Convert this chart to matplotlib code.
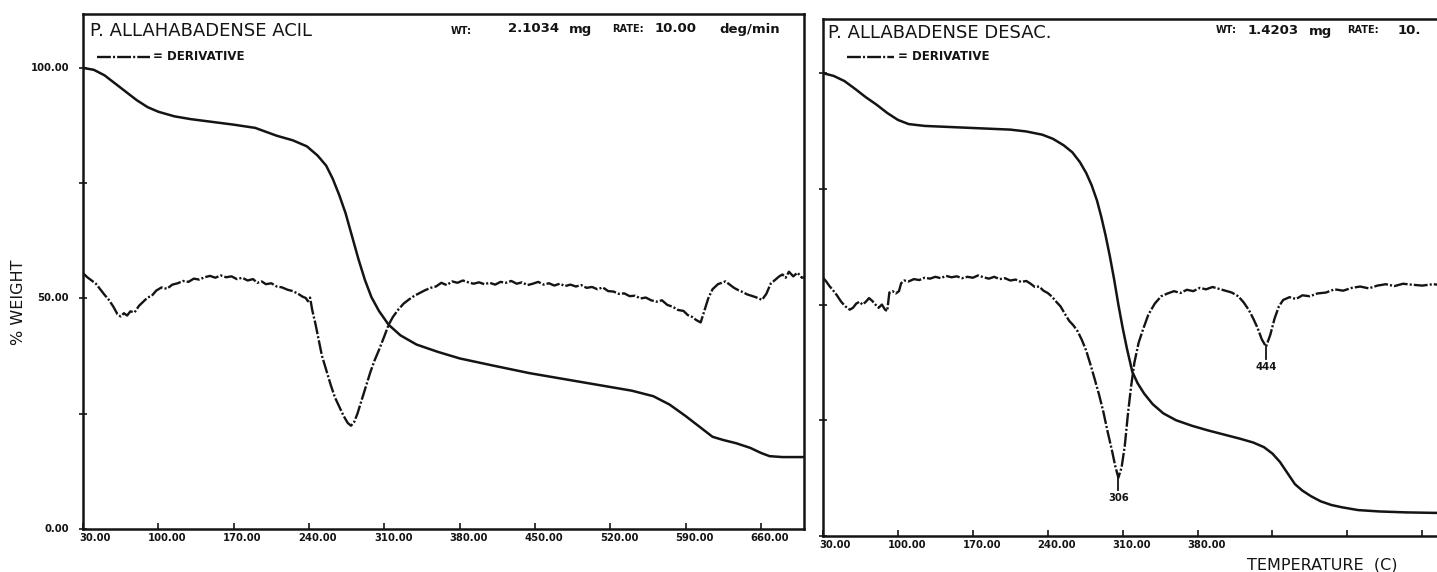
import matplotlib
matplotlib.use("Agg")
import matplotlib.pyplot as plt
import matplotlib.transforms as mtransforms
from matplotlib.lines import Line2D

plt.rcParams["lines.scale_dashes"] = False
plt.rcParams["font.family"] = ["DejaVu Sans"]

# ---------------- data: (temperature C, value) ----------------
# Panel A: P. allahabadense, acylated sample
acil_weight_pts = [
    (30, 100.0), (40, 99.6), (50, 98.4), (60, 96.6), (70, 94.8), (80, 93.0), (90, 91.5),
    (100, 90.5), (115, 89.5), (130, 88.9), (150, 88.3), (170, 87.7), (190, 87.0),
    (210, 85.3), (225, 84.3), (238, 83.0), (248, 81.0), (256, 78.8), (262, 76.0),
    (268, 72.5), (274, 68.5), (280, 63.5), (286, 58.5), (292, 54.0), (298, 50.3),
    (305, 47.3), (314, 44.3), (325, 42.0), (340, 40.0), (360, 38.4), (380, 37.0),
    (410, 35.5), (445, 33.8), (480, 32.4), (510, 31.2), (540, 30.0), (560, 28.8),
    (575, 27.0), (590, 24.5), (605, 21.8), (615, 20.0), (625, 19.3), (637, 18.6),
    (650, 17.6), (660, 16.5), (668, 15.8), (680, 15.6), (700, 15.6),
]
acil_deriv_pts = [
    (30, 55.5), (34, 54.6), (38, 53.9), (42, 53.2), (46, 52.0), (50, 50.8), (54, 49.7),
    (58, 48.3), (62, 46.6), (65, 46.1), (68, 46.8), (71, 46.3), (74, 47.2), (78, 47.0),
    (82, 48.4), (86, 49.3), (90, 50.2), (94, 50.6), (98, 51.7), (103, 52.4), (108, 52.1),
    (113, 53.0), (118, 53.3), (123, 53.8), (128, 53.6), (133, 54.3), (138, 54.1),
    (143, 54.6), (148, 54.9), (153, 54.5), (158, 55.0), (163, 54.6), (168, 54.8),
    (173, 54.2), (178, 54.5), (183, 53.9), (188, 54.2), (192, 53.4), (196, 53.7),
    (200, 53.1), (205, 53.3), (210, 52.6), (215, 52.4), (220, 51.9), (225, 51.6),
    (230, 51.0), (234, 50.4), (237, 50.1), (239, 49.4), (241, 50.2), (243, 47.5),
    (246, 44.5), (249, 41.0), (252, 37.6), (256, 34.5), (260, 31.4), (264, 28.6),
    (268, 26.6), (272, 24.6), (276, 23.0), (279, 22.4), (282, 23.2), (285, 25.0),
    (289, 28.0), (293, 31.0), (297, 34.0), (301, 36.6), (305, 38.8), (310, 41.8),
    (314, 44.3), (318, 46.0), (323, 47.6), (328, 48.9), (333, 49.8), (338, 50.6),
    (343, 51.2), (348, 51.8), (353, 52.3), (358, 52.6), (363, 53.4), (368, 52.9),
    (373, 53.7), (378, 53.4), (383, 53.9), (388, 53.5), (393, 53.2), (398, 53.5),
    (403, 53.1), (408, 53.4), (413, 53.0), (418, 53.6), (423, 53.4), (428, 53.8),
    (433, 53.2), (438, 53.5), (443, 52.9), (448, 53.2), (453, 53.6), (458, 53.0),
    (463, 53.3), (468, 52.8), (473, 53.2), (478, 52.7), (483, 53.0), (488, 52.6),
    (493, 52.9), (498, 52.3), (503, 52.5), (508, 52.0), (513, 52.4), (518, 51.6),
    (523, 51.5), (528, 51.0), (533, 51.1), (538, 50.5), (543, 50.6), (548, 50.0),
    (553, 50.2), (558, 49.6), (563, 49.3), (568, 49.6), (573, 48.6), (578, 48.2),
    (583, 47.5), (588, 47.3), (592, 46.4), (596, 46.0), (600, 45.3), (604, 44.8),
    (607, 47.0), (611, 50.0), (615, 52.0), (620, 53.1), (627, 53.7), (631, 53.0),
    (635, 52.3), (639, 51.8), (643, 51.4), (647, 50.9), (651, 50.6), (655, 50.3),
    (661, 49.7), (665, 51.0), (669, 53.2), (673, 54.0), (677, 54.8), (680, 55.2),
    (683, 54.5), (686, 55.8), (690, 54.8), (694, 55.6), (698, 54.5), (700, 54.6),
]

# Panel B: P. allahabadense, deacylated sample
desac_weight_pts = [
    (30, 100.0), (40, 99.4), (50, 98.3), (60, 96.6), (70, 94.8), (80, 93.2), (90, 91.4),
    (100, 89.9), (110, 89.0), (125, 88.6), (145, 88.4), (165, 88.2), (185, 88.0),
    (205, 87.8), (220, 87.4), (235, 86.7), (245, 85.8), (255, 84.4), (263, 82.9),
    (270, 80.8), (276, 78.4), (281, 75.8), (286, 72.5), (290, 69.0), (294, 65.0),
    (298, 60.5), (302, 55.5), (306, 50.0), (310, 45.0), (314, 40.5), (319, 35.5),
    (324, 33.0), (330, 30.8), (338, 28.5), (348, 26.5), (360, 25.0), (375, 23.8),
    (390, 22.8), (405, 21.9), (420, 21.0), (432, 20.2), (442, 19.2), (450, 17.8),
    (457, 16.0), (464, 13.6), (471, 11.2), (478, 9.8), (486, 8.6), (495, 7.5),
    (505, 6.7), (515, 6.2), (530, 5.6), (550, 5.3), (575, 5.1), (600, 5.0), (640, 4.9),
    (700, 4.8),
]
desac_deriv_pts = [
    (30, 55.8), (33, 55.0), (36, 54.0), (39, 53.2), (43, 52.0), (47, 50.6), (51, 49.6),
    (55, 48.9), (58, 49.3), (61, 50.2), (64, 50.6), (67, 50.0), (70, 50.6), (73, 51.4),
    (76, 50.8), (79, 50.0), (82, 49.3), (85, 50.0), (88, 48.9), (90, 48.6), (92, 52.6),
    (95, 52.9), (98, 52.4), (101, 52.9), (103, 54.6), (106, 55.2), (110, 55.0),
    (115, 55.5), (120, 55.3), (125, 55.8), (130, 55.6), (135, 56.0), (140, 55.7),
    (145, 56.2), (150, 55.9), (155, 56.1), (160, 55.7), (165, 56.0), (170, 55.8),
    (175, 56.3), (180, 55.9), (185, 55.6), (190, 56.0), (195, 55.5), (200, 55.7),
    (205, 55.2), (210, 55.4), (215, 54.9), (220, 55.1), (224, 54.5), (228, 53.8),
    (232, 53.9), (236, 53.0), (240, 52.5), (244, 51.7), (248, 50.6), (252, 49.6),
    (256, 48.0), (260, 46.5), (264, 45.5), (268, 44.2), (272, 42.3), (276, 40.0),
    (280, 37.0), (284, 33.8), (288, 30.5), (292, 26.8), (296, 22.5), (300, 18.5),
    (303, 15.2), (306, 12.6), (309, 14.8), (312, 19.5), (315, 26.5), (318, 32.5),
    (321, 37.5), (325, 41.8), (329, 44.6), (334, 47.8), (340, 50.2), (346, 51.8),
    (352, 52.4), (358, 52.9), (364, 52.5), (370, 53.2), (376, 52.9), (382, 53.6),
    (388, 53.3), (394, 53.8), (400, 53.4), (406, 53.0), (412, 52.6), (418, 51.8),
    (423, 50.5), (428, 48.8), (432, 47.0), (436, 45.0), (440, 42.5), (444, 40.9),
    (448, 43.5), (452, 47.0), (456, 49.6), (460, 51.0), (466, 51.6), (472, 51.2),
    (478, 52.0), (485, 51.8), (492, 52.4), (500, 52.6), (508, 53.3), (516, 53.0),
    (524, 53.6), (532, 53.9), (540, 53.5), (548, 54.1), (556, 54.4), (564, 54.0),
    (572, 54.5), (580, 54.3), (590, 54.1), (600, 54.4), (610, 54.2), (620, 54.0),
    (640, 53.9), (660, 53.8), (700, 53.7),
]

desac_peaks = [306, 444]
desac_peak_depth = [12.6, 40.9]

x_ticks = [30, 100, 170, 240, 310, 380, 450, 520, 590, 660]
x_tick_labels = ["30.00", "100.00", "170.00", "240.00", "310.00", "380.00",
                 "450.00", "520.00", "590.00", "660.00"]
desac_labelled = 6
y_ticks = [0, 25, 50, 75, 100]
y_tick_labels = ["0.00", "", "50.00", "", "100.00"]

# ---------------- figure ----------------
W, H = 1437, 572
fig = plt.figure(figsize=(W / 100, H / 100), dpi=100)
fig.patch.set_facecolor("white")
ink = "#141414"


def fx(px):
    return px / W


def fy(py):
    return 1 - py / H


def split(pts):
    return [p[0] for p in pts], [p[1] for p in pts]


ax1 = fig.add_axes([fx(83), fy(529), (804 - 83) / W, (529 - 14) / H])
ax2 = fig.add_axes([fx(823), fy(536), 717 / W, (536 - 19) / H])

deriv_style = dict(color=ink, lw=1.7, linestyle=(0, (10, 1.5, 1.5, 1.5)))
tga_style = dict(color=ink, lw=1.8, solid_capstyle="round")
tick_font = dict(fontsize=7.2, fontweight="bold", color=ink)

for ax in (ax1, ax2):
    ax.set_xlim(30, 700)
    ax.set_ylim(0, 111.7)
    for sp in ax.spines.values():
        sp.set_linewidth(1.8)
        sp.set_color(ink)
    ax.set_xticks(x_ticks)
    ax.set_xticklabels([])
    ax.set_yticks(y_ticks)
    ax.set_yticklabels([])
    ax.tick_params(axis="x", direction="in", length=4, width=1.2, color=ink)
    ax.tick_params(axis="y", direction="inout", length=6, width=1.2, color=ink)

ax1.plot(*split(acil_weight_pts), **tga_style)
ax1.plot(*split(acil_deriv_pts), **deriv_style)
ax2.plot(*split(desac_weight_pts), **tga_style)
ax2.plot(*split(desac_deriv_pts), **deriv_style)

# temperature tick labels, right-aligned a little past each tick
for ax, n in ((ax1, len(x_ticks)), (ax2, desac_labelled)):
    tr = mtransforms.offset_copy(ax.get_xaxis_transform(), fig=fig, x=28, y=-4, units="dots")
    for v, lab in zip(x_ticks[:n], x_tick_labels[:n]):
        ax.text(v, 0, lab, transform=tr, ha="right", va="top", **tick_font)

# weight tick labels on the left panel only
tr = mtransforms.offset_copy(ax1.get_yaxis_transform(), fig=fig, x=-14, y=0, units="dots")
for v, lab in zip(y_ticks, y_tick_labels):
    if lab:
        ax1.text(0, v, lab, transform=tr, ha="right", va="center", **tick_font)

# peak temperatures on the derivative curve
for t, d in zip(desac_peaks, desac_peak_depth):
    ax2.plot([t, t], [d, d - 2.6], color=ink, lw=1.3)
    ax2.text(t, d - 3.4, f"{t:d}", ha="center", va="top", **tick_font)

# headers
head = dict(fontsize=13, color=ink, va="center", ha="left")
num = dict(fontsize=9.5, fontweight="bold", color=ink, va="center", ha="left")
key = dict(fontsize=7, fontweight="bold", color=ink, va="center", ha="left")
fig.text(fx(90), fy(31), "P. ALLAHABADENSE ACIL", **head)
fig.text(fx(451), fy(31), "WT:", **key)
fig.text(fx(508), fy(29), "2.1034", **num)
fig.text(fx(569), fy(30), "mg", **num)
fig.text(fx(612), fy(29), "RATE:", **key)
fig.text(fx(655), fy(29), "10.00", **num)
fig.text(fx(719), fy(30), "deg/min", **num)

fig.text(fx(828), fy(33), "P. ALLABADENSE DESAC.", **head)
fig.text(fx(1216), fy(30), "WT:", **key)
fig.text(fx(1248), fy(30), "1.4203", **num)
fig.text(fx(1309), fy(31), "mg", **num)
fig.text(fx(1347), fy(30), "RATE:", **key)
fig.text(fx(1398), fy(30), "10.", **num)

# derivative keys
for x0, x1, xt, yk in ((97, 150, 153, 57), (847, 894, 898, 57)):
    fig.add_artist(Line2D([fx(x0), fx(x1)], [fy(yk), fy(yk)], transform=fig.transFigure,
                          **deriv_style))
    fig.text(fx(xt), fy(yk), "= DERIVATIVE", fontsize=8.5, fontweight="bold", color=ink,
             va="center", ha="left")

fig.text(fx(19), fy(302), "% WEIGHT", rotation=90, fontsize=11.5, color=ink,
         ha="center", va="center")
fig.text(fx(1247), fy(565), "TEMPERATURE  (C)", fontsize=11.5, color=ink,
         ha="left", va="center")

fig.savefig("out.png", dpi=100, facecolor="white")
